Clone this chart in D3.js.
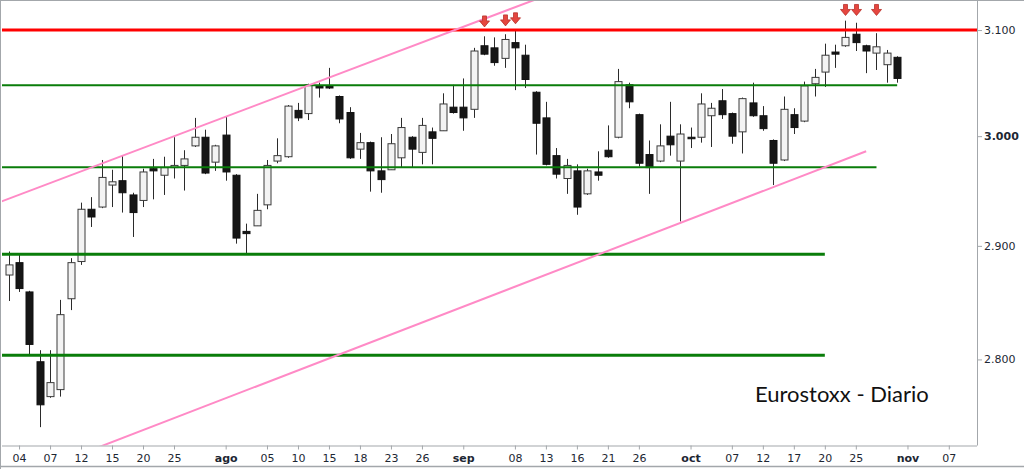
<!DOCTYPE html>
<html>
<head>
<meta charset="utf-8">
<script src="https://cdn.jsdelivr.net/npm/d3@7"></script>
<style>
  html, body { margin: 0; padding: 0; background: #fff; }
  svg { display: block; }
</style>
</head>
<body>
<div id="chart"></div>
<script>
// daily candles, Eurostoxx 50 (jul - oct 2016)
const dates = [
  "2016-07-01","2016-07-04","2016-07-05","2016-07-06","2016-07-07","2016-07-08",
  "2016-07-11","2016-07-12","2016-07-13","2016-07-14","2016-07-15",
  "2016-07-18","2016-07-19","2016-07-20","2016-07-21","2016-07-22",
  "2016-07-25","2016-07-26","2016-07-27","2016-07-28","2016-07-29",
  "2016-08-01","2016-08-02","2016-08-03","2016-08-04","2016-08-05",
  "2016-08-08","2016-08-09","2016-08-10","2016-08-11","2016-08-12",
  "2016-08-15","2016-08-16","2016-08-17","2016-08-18","2016-08-19",
  "2016-08-22","2016-08-23","2016-08-24","2016-08-25","2016-08-26",
  "2016-08-29","2016-08-30","2016-08-31","2016-09-01","2016-09-02",
  "2016-09-05","2016-09-06","2016-09-07","2016-09-08","2016-09-09",
  "2016-09-12","2016-09-13","2016-09-14","2016-09-15","2016-09-16",
  "2016-09-19","2016-09-20","2016-09-21","2016-09-22","2016-09-23",
  "2016-09-26","2016-09-27","2016-09-28","2016-09-29","2016-09-30",
  "2016-10-03","2016-10-04","2016-10-05","2016-10-06","2016-10-07",
  "2016-10-10","2016-10-11","2016-10-12","2016-10-13","2016-10-14",
  "2016-10-17","2016-10-18","2016-10-19","2016-10-20","2016-10-21",
  "2016-10-24","2016-10-25","2016-10-26","2016-10-27","2016-10-28",
  "2016-10-31"
];
const open = [
  2874, 2885, 2859, 2798, 2768, 2774,
  2853, 2886, 2933, 2935, 2955,
  2959, 2946, 2941, 2970, 2964,
  2971, 2973, 2991, 2999, 2976,
  3001, 2964, 2913, 2918, 2937,
  2977, 2981, 3024, 3021, 3047,
  3047, 3037, 3022, 2988, 2994,
  2968, 2969, 2980, 2999, 2985,
  3004, 3005, 3027, 3027, 3025,
  3085, 3083, 3073, 3088, 3076,
  3041, 3017, 2982, 2961, 2968,
  2947, 2967, 2987, 2999, 3048,
  3020, 2983, 2977, 3000, 2977,
  2999, 2999, 3019, 3033, 3021,
  3004, 3031, 3019, 2996, 2978,
  3020, 3014, 3049, 3060, 3079,
  3085, 3096, 3085, 3078, 3067,
  3074
];
const high = [
  2895, 2892, 2860, 2808, 2808, 2852,
  2889, 2939, 2944, 2978, 2969,
  2982, 2948, 2970, 2979, 2981,
  2999, 2987, 3017, 3006, 2992,
  3018, 2965, 2920, 2947, 2978,
  2998, 3029, 3031, 3049, 3050,
  3064, 3038, 3027, 3003, 2995,
  2999, 3002, 3017, 3000, 3017,
  3008, 3040, 3048, 3054, 3083,
  3094, 3093, 3096, 3100, 3086,
  3042, 3032, 2989, 2979, 2974,
  2970, 2986, 3010, 3063, 3050,
  3021, 2996, 3011, 3032, 3011,
  3008, 3040, 3031, 3044, 3022,
  3036, 3050, 3028, 2997, 3037,
  3026, 3051, 3063, 3087, 3086,
  3109, 3107, 3086, 3097, 3081,
  3075
];
const low = [
  2851, 2859, 2804, 2742, 2767, 2768,
  2843, 2883, 2917, 2934, 2935,
  2930, 2908, 2935, 2942, 2946,
  2961, 2950, 2990, 2965, 2968,
  2959, 2902, 2893, 2918, 2933,
  2975, 2980, 3014, 3015, 3036,
  3044, 3012, 2979, 2979, 2949,
  2948, 2969, 2971, 2971, 2974,
  2974, 3005, 3021, 3005, 3017,
  3076, 3066, 3064, 3043, 3045,
  2983, 2973, 2961, 2947, 2928,
  2946, 2959, 2980, 2998, 3026,
  2972, 2947, 2976, 2982, 2922,
  2989, 2994, 2990, 3016, 2993,
  2984, 3018, 3005, 2955, 2977,
  3002, 3013, 3037, 3046, 3064,
  3084, 3080, 3059, 3062, 3050,
  3050
];
const close = [
  2883, 2862, 2813, 2761, 2780, 2839,
  2885, 2933, 2926, 2962, 2958,
  2948, 2930, 2967, 2968, 2971,
  2973, 2979, 2999, 2966, 2991,
  2967, 2907, 2911, 2932, 2973,
  2982, 3028, 3017, 3048, 3045,
  3045, 3016, 2980, 2994, 2968,
  2960, 2993, 3008, 2988, 3010,
  2998, 3030, 3022, 3017, 3080,
  3077, 3069, 3091, 3083, 3053,
  3012, 2974, 2965, 2973, 2935,
  2968, 2964, 2981, 3051, 3032,
  2975, 2971, 2991, 2992, 3002,
  2998, 3030, 3026, 3020, 3000,
  3035, 3019, 3007, 2975, 3025,
  3008, 3047, 3055, 3076, 3077,
  3093, 3088, 3080, 3084, 3078,
  3054
];

// horizontal supports / resistance: [level, last date, colour, width]
const levelValues = [3100, 3047.6, 2971.3, 2892.5, 2803.6];
const levelEnds = ["2016-11-11", "2016-10-31", "2016-10-27", "2016-10-20", "2016-10-20"];
const levelColors = ["#ff0000", "#0a7d0a", "#0a7d0a", "#0a7d0a", "#0a7d0a"];
const levelWidths = [3, 2, 2, 3, 3];

// channel lines (pink): [startDate, startPrice, endDate, endPrice]
const channelUpper = ["2016-06-30", 2939, "2016-09-14", 3137];
const channelLower = ["2016-07-11", 2716, "2016-10-26", 2986];

// red arrows over the highs: date, price at the arrow tip
const arrowDates = ["2016-09-05", "2016-09-07", "2016-09-08", "2016-10-24", "2016-10-25", "2016-10-27"];
const arrowPrices = [3103, 3104, 3106, 3114, 3114, 3114];

const xTickDates = [
  "2016-07-04","2016-07-07","2016-07-12","2016-07-15","2016-07-20","2016-07-25",
  "2016-08-01","2016-08-05","2016-08-10","2016-08-15","2016-08-18","2016-08-23","2016-08-26",
  "2016-09-01","2016-09-08","2016-09-13","2016-09-16","2016-09-21","2016-09-26",
  "2016-10-03","2016-10-07","2016-10-12","2016-10-17","2016-10-20","2016-10-25",
  "2016-11-01","2016-11-07"
];
const xTickLabels = [
  "04","07","12","15","20","25",
  "ago","05","10","15","18","23","26",
  "sep","08","13","16","21","26",
  "oct","07","12","17","20","25",
  "nov","07"
];
const yTicks = [2800, 2900, 3000, 3100];

const width = 1024;
const height = 469;
const plotLeft = 2;
const plotRight = 977;
const plotTop = 1;
const plotBottom = 445.5;
const frameColor = "#a3a7ab";
const labelColor = "#1d2733";

// trading-day index counted from 2016-07-04 (weekdays only)
function dayIndex(s) {
  const base = Date.UTC(2016, 6, 4);
  const [yy, mm, dd] = s.split("-").map(Number);
  const t = Date.UTC(yy, mm - 1, dd);
  const step = t >= base ? 1 : -1;
  let n = 0;
  for (let d = base; d !== t; d += step * 864e5) {
    const cur = new Date(d + (step > 0 ? 864e5 : 0));
    const wd = cur.getUTCDay();
    if (wd !== 0 && wd !== 6) n += step;
  }
  return n;
}

const candles = dates.map((d, i) => ({
  i: dayIndex(d),
  o: open[i], h: high[i], l: low[i], c: close[i]
}));

const x = d3.scaleLinear().domain([-1.65, 92.73]).range([plotLeft, plotRight]);
const y = d3.scaleLog().domain([2726.5, 3127]).range([plotBottom, plotTop + 1]);

const esLocale = d3.formatLocale({ decimal: ",", thousands: ".", grouping: [3], currency: ["", " €"] });
const fmtY = esLocale.format(",");

const svg = d3.select("#chart").append("svg")
  .attr("width", width)
  .attr("height", height)
  .attr("viewBox", [0, 0, width, height]);

svg.append("rect").attr("width", width).attr("height", height).attr("fill", "#fff");

svg.append("defs").append("clipPath").attr("id", "plot-clip")
  .append("rect")
  .attr("x", plotLeft).attr("y", plotTop)
  .attr("width", plotRight - plotLeft).attr("height", plotBottom - plotTop);

const plot = svg.append("g").attr("clip-path", "url(#plot-clip)");

// candles
const bodyW = 7;
const cg = plot.append("g");
cg.selectAll("line")
  .data(candles)
  .join("line")
  .attr("x1", (d) => Math.round(x(d.i)) + 0.5)
  .attr("x2", (d) => Math.round(x(d.i)) + 0.5)
  .attr("y1", (d) => y(d.h))
  .attr("y2", (d) => y(d.l))
  .attr("stroke", "#2b2b2b")
  .attr("stroke-width", 1);

cg.selectAll("rect")
  .data(candles)
  .join("rect")
  .attr("x", (d) => Math.round(x(d.i)) + 0.5 - bodyW / 2)
  .attr("width", bodyW)
  .attr("y", (d) => Math.min(y(d.o), y(d.c)))
  .attr("height", (d) => Math.max(1.5, Math.abs(y(d.o) - y(d.c))))
  .attr("fill", (d) => (d.c >= d.o ? "#f3f3f3" : "#161616"))
  .attr("stroke", (d) => (d.c >= d.o ? "#3a3a3a" : "#111"))
  .attr("stroke-width", 1);

// horizontal levels
plot.append("g")
  .selectAll("line")
  .data(levelValues)
  .join("line")
  .attr("x1", plotLeft)
  .attr("x2", (d, i) => x(dayIndex(levelEnds[i])))
  .attr("y1", (d) => y(d))
  .attr("y2", (d) => y(d))
  .attr("stroke", (d, i) => levelColors[i])
  .attr("stroke-width", (d, i) => levelWidths[i]);

// pink channel lines, extended to the plot edges by the clip
function channelPath(c) {
  const i0 = dayIndex(c[0]);
  const i1 = dayIndex(c[2]);
  return d3.line()([[x(i0), y(c[1])], [x(i1), y(c[3])]]);
}
plot.append("g")
  .selectAll("path")
  .data([channelUpper, channelLower])
  .join("path")
  .attr("d", channelPath)
  .attr("fill", "none")
  .attr("stroke", "#ff8ac6")
  .attr("stroke-width", 2);

// arrows
plot.append("g")
  .selectAll("path")
  .data(arrowDates)
  .join("path")
  .attr("transform", (d, i) => `translate(${Math.round(x(dayIndex(d))) + 0.5},${y(arrowPrices[i])})`)
  .attr("d", "M-2,-11L2,-11L2,-6L5,-6L0,0L-5,-6L-2,-6Z")
  .attr("fill", "#e5463f")
  .attr("stroke", "#b7312b")
  .attr("stroke-width", 0.8);

// frame
svg.append("g")
  .attr("stroke", frameColor)
  .attr("fill", "none")
  .call((g) => {
    g.append("line").attr("x1", 0.5).attr("x2", 0.5).attr("y1", 0).attr("y2", height);
    g.append("line").attr("x1", 0).attr("x2", width).attr("y1", 0.5).attr("y2", 0.5);
    g.append("line").attr("x1", 0).attr("x2", width).attr("y1", 466.5).attr("y2", 466.5).attr("stroke-width", 1.5);
  });

// x axis
const xAxis = svg.append("g")
  .attr("transform", `translate(0,${plotBottom})`)
  .call(
    d3.axisBottom(x)
      .tickValues(xTickDates.map(dayIndex))
      .tickFormat((d, i) => xTickLabels[i])
      .tickSize(4)
      .tickSizeOuter(0)
  );
xAxis.select(".domain").attr("stroke", frameColor).attr("d", `M${plotLeft},0.5H${plotRight}`);
xAxis.selectAll(".tick line").attr("stroke", frameColor);
xAxis.selectAll(".tick text")
  .attr("fill", labelColor)
  .attr("font-family", "DejaVu Sans, Verdana, sans-serif")
  .attr("font-size", 11)
  .attr("dy", "0.9em")
  .attr("font-weight", (d, i) => (isNaN(+xTickLabels[i]) ? "bold" : "normal"));

// y axis on the right
const yAxis = svg.append("g")
  .attr("transform", `translate(${plotRight},0)`)
  .call(
    d3.axisRight(y)
      .tickValues(yTicks)
      .tickFormat(fmtY)
      .tickSize(5)
      .tickPadding(2)
      .tickSizeOuter(0)
  );
yAxis.select(".domain").attr("stroke", frameColor).attr("d", `M0.5,${plotTop}V${plotBottom}`);
yAxis.selectAll(".tick line").attr("stroke", frameColor);
yAxis.selectAll(".tick text")
  .attr("fill", labelColor)
  .attr("font-family", "DejaVu Sans, Verdana, sans-serif")
  .attr("font-size", 11)
  .attr("font-weight", (d) => (d === 3000 ? "bold" : "normal"));

// title
svg.append("text")
  .attr("x", 755)
  .attr("y", 402)
  .attr("font-family", "Lato, 'Open Sans', sans-serif")
  .attr("font-size", 22)
  .attr("fill", "#111")
  .text("Eurostoxx - Diario");
</script>
</body>
</html>
